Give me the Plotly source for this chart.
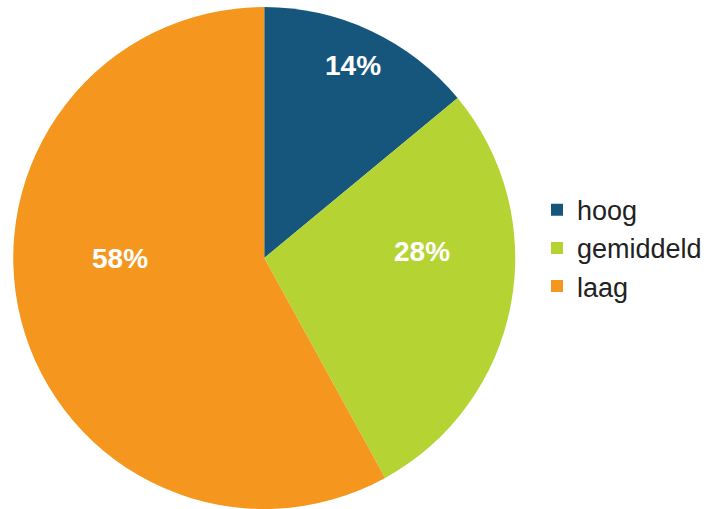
import plotly.graph_objects as go

labels = ["hoog", "gemiddeld", "laag"]
values = [14, 28, 58]
colors = ["#17567c", "#b6d334", "#f5961f"]

# label anchor positions (paper fraction) used by the original chart's best-fit placement
label_x = [354 / 707, 423 / 707, 120 / 707]
label_y = [1 - 65 / 509, 1 - 252 / 509, 1 - 258 / 509]

fig = go.Figure(go.Pie(
    labels=labels,
    values=values,
    sort=False,
    direction="clockwise",
    rotation=0,
    marker=dict(colors=colors, line=dict(width=0)),
    textinfo="none",
    domain=dict(x=[13/707, 517/707], y=[0, 1 - 7/509]),
    hoverinfo="skip",
))

for v, x, y in zip(values, label_x, label_y):
    fig.add_annotation(
        x=x, y=y, xref="paper", yref="paper",
        text=f"{v}%", showarrow=False,
        xanchor="center", yanchor="middle",
        font=dict(family="Liberation Sans, Arial, sans-serif", size=28, color="white", weight="bold"),
    )

fig.update_layout(
    width=707, height=509,
    margin=dict(l=0, r=0, t=0, b=0),
    paper_bgcolor="white",
    plot_bgcolor="white",
    showlegend=True,
    legend=dict(
        x=0.762, y=0.635, xanchor="left", yanchor="top",
        font=dict(family="Liberation Sans, Arial, sans-serif", size=27, color="#222222"),
        tracegroupgap=0,
        itemwidth=30,
    ),
)

fig.write_html("out.html")
